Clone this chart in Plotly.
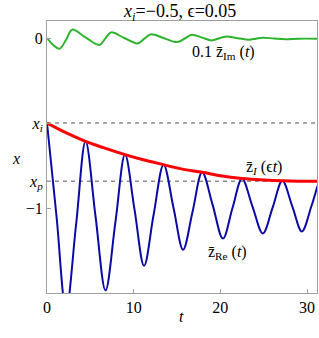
import plotly.graph_objects as go

# ---- data ----
x_i = -0.5
x_p = -0.843

t_re = [0, 1.1, 2.2, 3.35, 4.45, 5.6, 6.75, 7.9, 9.0, 10.1, 11.2, 12.3, 13.45, 14.6, 15.7,
        16.8, 17.9, 19.1, 20.3, 21.4, 22.5, 23.7, 24.9, 26.05, 27.15, 28.3, 29.4, 30.5, 31.2]
z_re = [-0.5, -1.05, -1.6, -1.1, -0.608, -1.05, -1.485, -1.08, -0.686, -1.01, -1.34, -1.04,
        -0.745, -1.0, -1.245, -1.02, -0.79, -0.98, -1.18, -1.0, -0.828, -0.99, -1.15, -0.995,
        -0.84, -0.99, -1.138, -0.99, -0.87]

t_im = [0, 0.7, 1.45, 2.2, 2.9, 4.45, 6.05, 6.7, 7.4, 8.9, 10.45, 11.2, 12.0, 13.5, 15.0,
        15.9, 16.7, 17.9, 19.0, 19.8, 20.6, 22.0, 23.3, 24.1, 24.9, 26.2, 27.5, 29.0, 31.2]
z_im01 = [0, -0.04, -0.063, -0.01, 0.049, 0.003, -0.041, -0.005, 0.033, 0.0, -0.032, -0.005,
          0.022, -0.001, -0.024, -0.003, 0.019, 0.002, -0.014, -0.003, 0.008, -0.001, -0.010,
          -0.004, 0.002, -0.003, -0.007, -0.004, -0.004]

t_i = [0, 2, 4.45, 6.5, 9.0, 11, 13.4, 15.5, 17.9, 20, 22.5, 25, 27.2, 29, 31.2]
z_i = [-0.5, -0.552, -0.608, -0.645, -0.686, -0.715, -0.745, -0.77, -0.79, -0.81, -0.826,
       -0.835, -0.84, -0.842, -0.843]

x_ticks = [0, 10, 20, 30]
y_tick_vals = [0, x_i, x_p, -1]
y_tick_text = ["0", "<i>x</i><sub><i>i</i></sub>", "<i>x</i><sub><i>p</i></sub>", "−1"]

t_range = [0, 31.15]
y_range = [-1.5, 0.1]

FONT = "Liberation Serif"
W, H, L, R, T, B = 319, 338, 47, 2, 21, 45
pw, ph = W - L - R, H - T - B

fig = go.Figure()
for yv in [x_i, x_p]:
    fig.add_trace(go.Scatter(x=t_range, y=[yv, yv], mode="lines",
                             line=dict(color="#8c8c8c", width=1.5, dash="4px,4px"),
                             hoverinfo="skip", showlegend=False))
fig.add_trace(go.Scatter(x=t_re, y=z_re, mode="lines", line=dict(color="#0a0aa5", width=2, shape="spline"),
                         showlegend=False))
fig.add_trace(go.Scatter(x=t_i, y=z_i, mode="lines", line=dict(color="#ff0000", width=3, shape="spline"),
                         showlegend=False))
fig.add_trace(go.Scatter(x=t_im, y=z_im01, mode="lines", line=dict(color="#2db42d", width=2, shape="spline"),
                         showlegend=False))

axcommon = dict(showline=True, mirror=True, linecolor="#a0a0a0", linewidth=1, ticks="inside",
                tickcolor="#a0a0a0", ticklen=4, showgrid=False, zeroline=False, automargin=False,
                tickfont=dict(family=FONT, size=16, color="black"))
fig.update_xaxes(range=t_range, tickvals=x_ticks, **axcommon)
fig.update_yaxes(range=y_range, tickvals=y_tick_vals, ticktext=y_tick_text, **axcommon)

ann_font = dict(family=FONT, size=16, color="black")
fig.update_layout(
    width=W, height=H, margin=dict(l=L, r=R, t=T, b=B),
    plot_bgcolor="white", paper_bgcolor="white",
    title=dict(text="<i>x</i><sub><i>i</i></sub>=−0.5, ϵ=0.05", x=0.565, xanchor="center",
               y=0.968, yanchor="middle", font=dict(family=FONT, size=18, color="black")),
    annotations=[
        dict(text="0.1 z̄<sub>Im</sub> (<i>t</i>)", x=20.4, y=-0.086, xref="x", yref="y",
             showarrow=False, font=ann_font),
        dict(text="z̄<sub><i>I</i></sub> (ϵ<i>t</i>)", x=25.0, y=-0.763, xref="x", yref="y",
             showarrow=False, font=ann_font),
        dict(text="z̄<sub>Re</sub> (<i>t</i>)", x=20.8, y=-1.263, xref="x", yref="y",
             showarrow=False, font=ann_font),
        dict(text="<i>x</i>", x=(10 - L) / pw, y=(H - B - 158) / ph, xref="paper", yref="paper",
             showarrow=False, font=ann_font),
        dict(text="<i>t</i>", x=(181 - L) / pw, y=(H - B - 327) / ph, xref="paper", yref="paper",
             showarrow=False, font=ann_font),
    ],
)

fig.write_html("out.html", post_script="document.body.style.margin='0';",
               config={"displayModeBar": False})
